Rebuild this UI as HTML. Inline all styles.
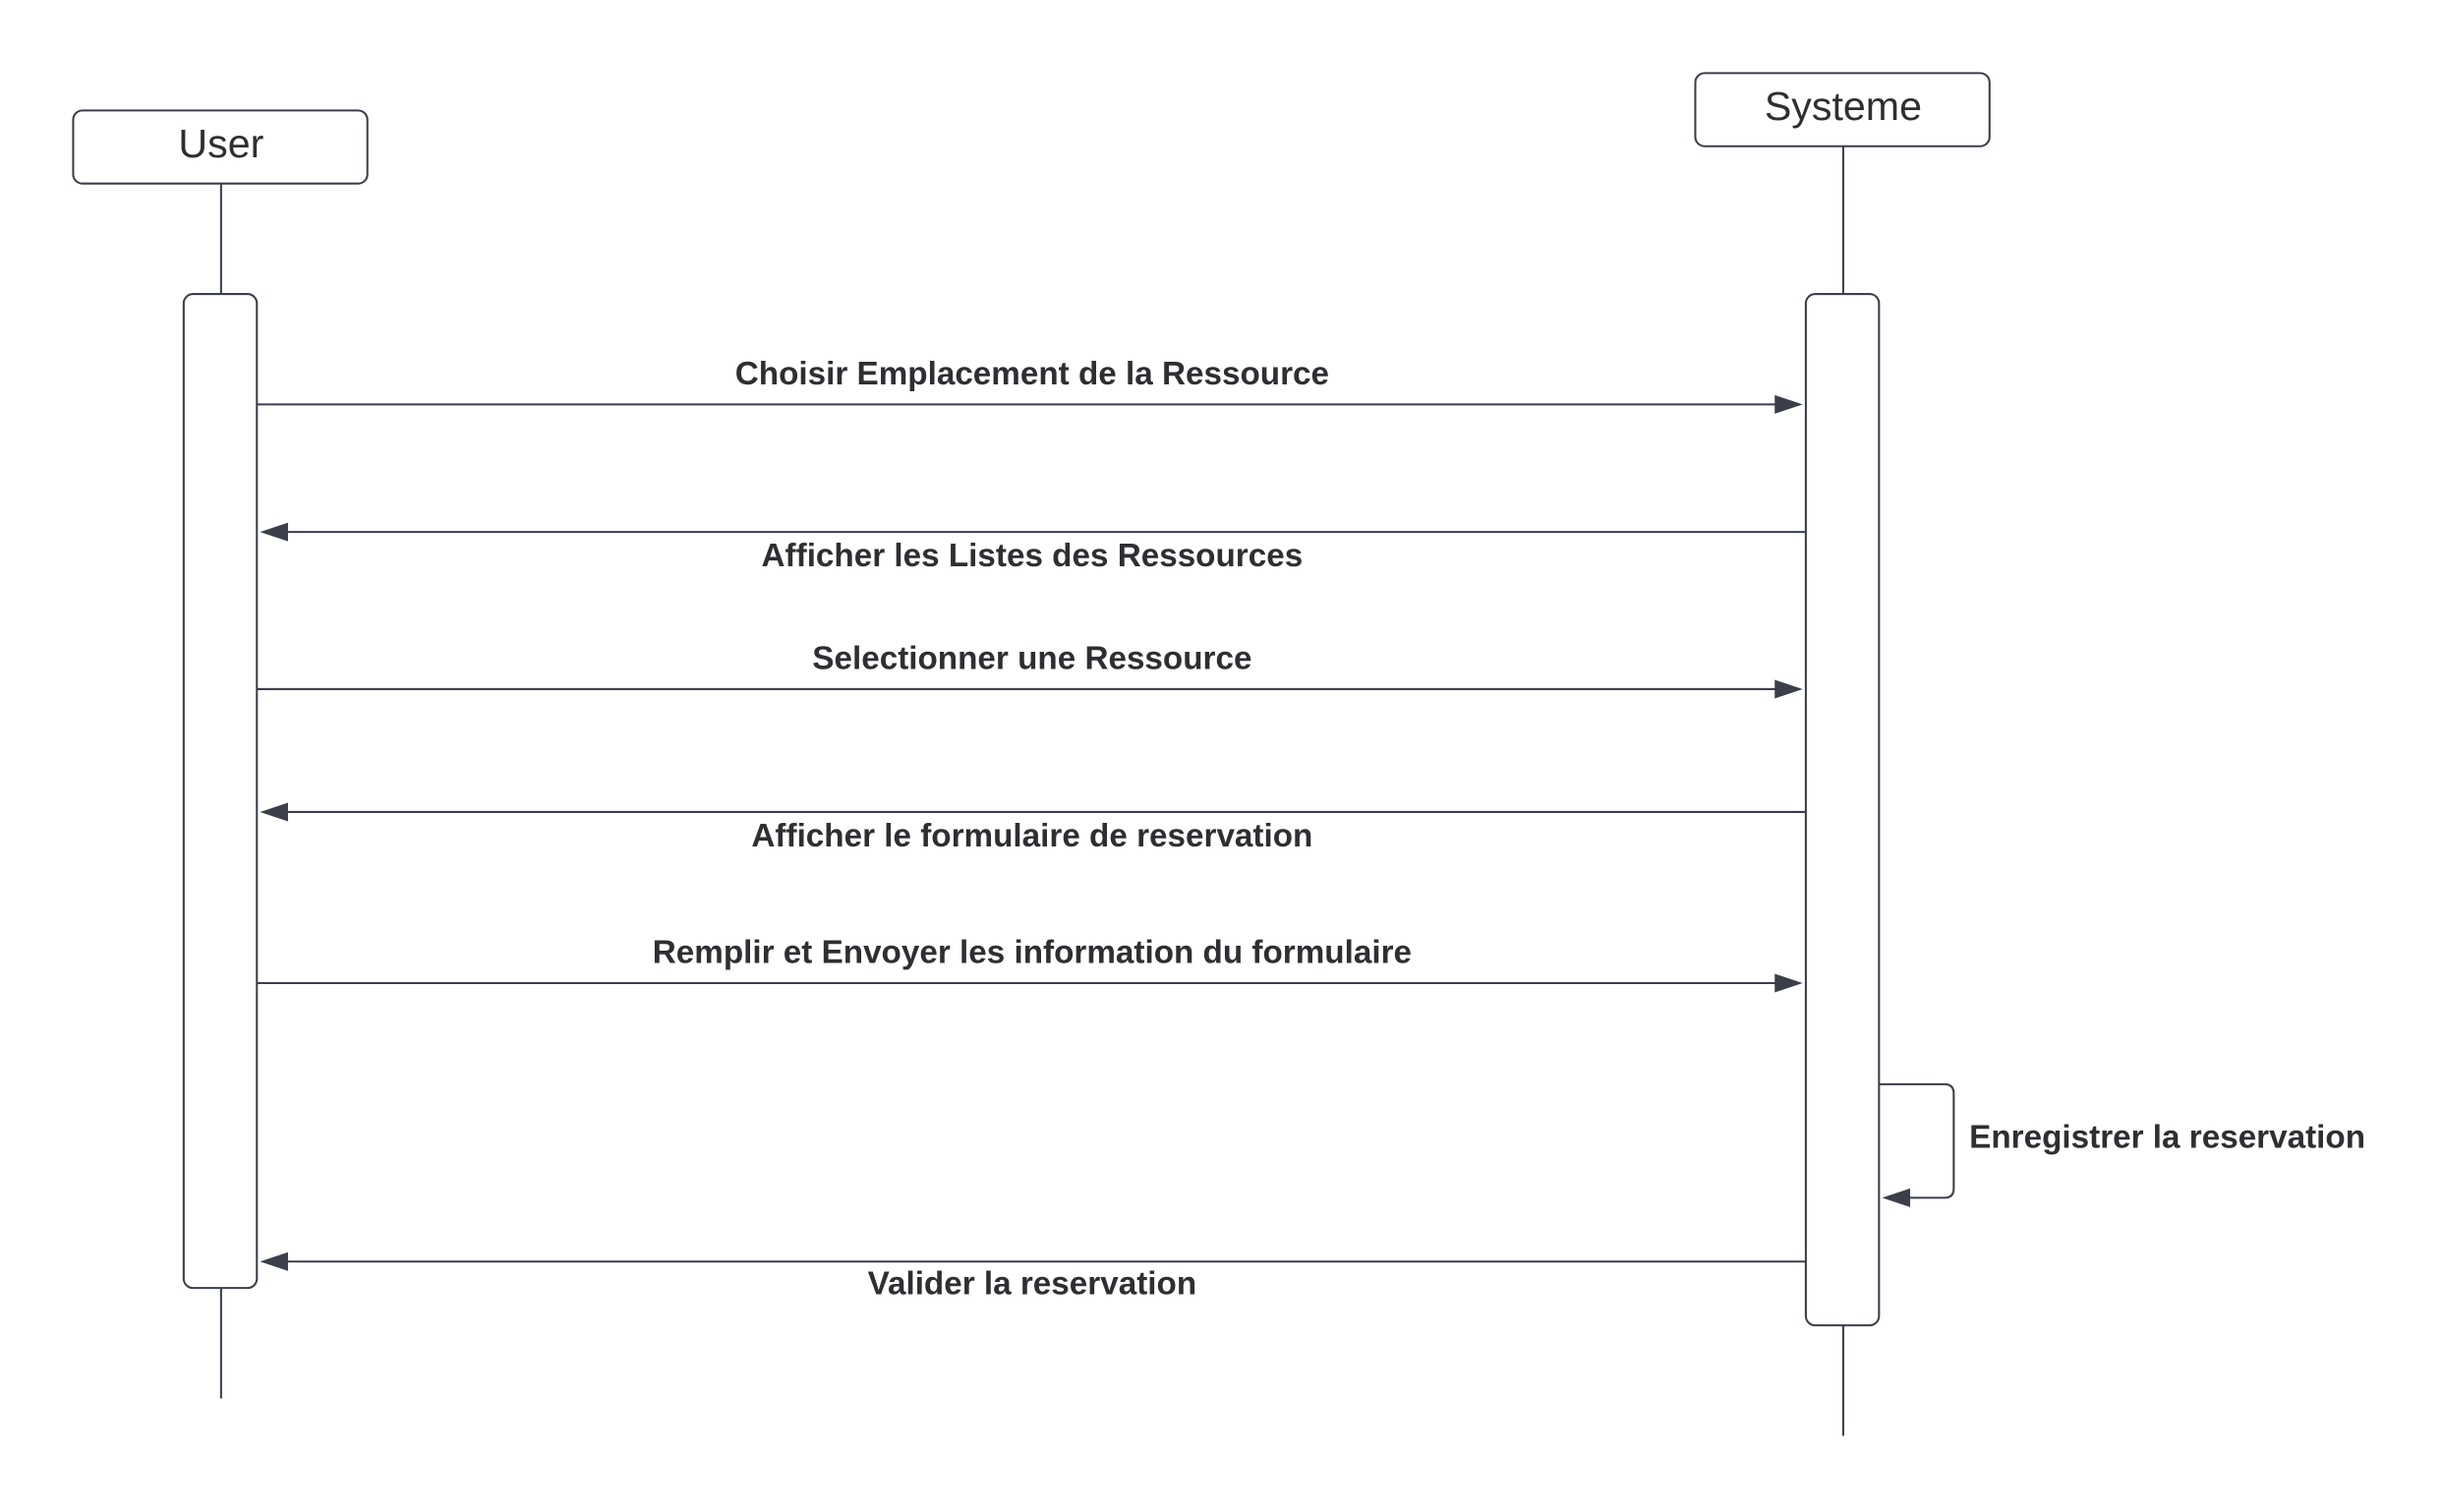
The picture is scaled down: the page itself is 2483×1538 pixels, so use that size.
<!DOCTYPE html>
<html><head><meta charset="utf-8"><style>
html,body{margin:0;padding:0;background:#fff;}
svg{display:block;}
text{font-family:"Liberation Sans",sans-serif;fill:#2e2f33;}
.m{font-weight:bold;font-size:21px;}
.l{stroke:#3a3f4a;stroke-width:1.3;fill:none;}
.box{stroke:#3a3f4a;stroke-width:1.3;fill:#fff;}
.ah{fill:#3a3f4a;}
</style></head><body>
<svg width="2483" height="1538" viewBox="0 0 1568 972" preserveAspectRatio="none">
  <g>
    <line class="l" x1="142" y1="118" x2="142" y2="899"/>
    <rect class="box" x="47" y="71" width="189" height="47" rx="6"/>
    <text x="142" y="101" text-anchor="middle" font-size="26">User</text>
    <rect class="box" x="118" y="189" width="47" height="639" rx="6"/>
  </g>
  <g>
    <line class="l" x1="1184" y1="94" x2="1184" y2="923"/>
    <rect class="box" x="1089" y="47" width="189" height="47" rx="6"/>
    <text x="1184" y="77" text-anchor="middle" font-size="26">Systeme</text>
    <rect class="box" x="1160" y="189" width="47" height="663" rx="6"/>
  </g>

  <g>
    <line class="l" x1="165" y1="260" x2="1142" y2="260"/>
    <polygon class="ah" points="1158,260 1140,254 1140,266"/>
    <text class="m" x="663" y="247" text-anchor="middle">Choisir Emplacement de la Ressource</text>
  </g>
  <g>
    <line class="l" x1="1160" y1="342" x2="183" y2="342"/>
    <polygon class="ah" points="167,342 185,336 185,348"/>
    <text class="m" x="663" y="364" text-anchor="middle">Afficher les Listes des Ressources</text>
  </g>
  <g>
    <line class="l" x1="165" y1="443" x2="1142" y2="443"/>
    <polygon class="ah" points="1158,443 1140,437 1140,449"/>
    <text class="m" x="663" y="430" text-anchor="middle">Selectionner une Ressource</text>
  </g>
  <g>
    <line class="l" x1="1160" y1="522" x2="183" y2="522"/>
    <polygon class="ah" points="167,522 185,516 185,528"/>
    <text class="m" x="663" y="544" text-anchor="middle">Afficher le formulaire de reservation</text>
  </g>
  <g>
    <line class="l" x1="165" y1="632" x2="1142" y2="632"/>
    <polygon class="ah" points="1158,632 1140,626 1140,638"/>
    <text class="m" x="663" y="619" text-anchor="middle">Remplir et Envoyer les information du formulaire</text>
  </g>
  <g>
    <path class="l" d="M1207,697 H1249 Q1255,697 1255,703 V764 Q1255,770 1249,770 H1226"/>
    <polygon class="ah" points="1209,770 1227,764 1227,776"/>
    <text class="m" x="1265" y="738">Enregistrer la reservation</text>
  </g>
  <g>
    <line class="l" x1="1160" y1="811" x2="183" y2="811"/>
    <polygon class="ah" points="167,811 185,805 185,817"/>
    <text class="m" x="663" y="832" text-anchor="middle">Valider la reservation</text>
  </g>
</svg>
</body></html>
